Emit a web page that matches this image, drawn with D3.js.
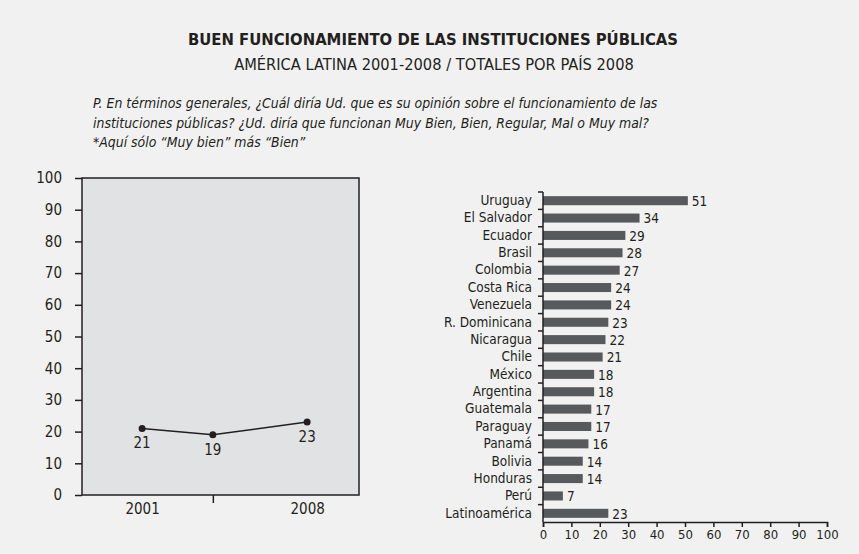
<!DOCTYPE html>
<html>
<head>
<meta charset="utf-8">
<script src="https://cdn.jsdelivr.net/npm/d3@7"></script>
<style>
  body { margin: 0; background: #f1f1f1; }
  svg { display: block; }
  text { fill: #231f20; font-family: "Liberation Sans Narrow", "DejaVu Sans Condensed", sans-serif; }
</style>
</head>
<body>
<svg width="859" height="554"></svg>
<script>
// Evolution 2001-2008
var years = [2001, 2004, 2008];
var yearValues = [21, 19, 23];
var yearTickLabels = ["2001", "", "2008"];

// Totals by country 2008
var countries = ["Uruguay", "El Salvador", "Ecuador", "Brasil", "Colombia", "Costa Rica", "Venezuela",
  "R. Dominicana", "Nicaragua", "Chile", "México", "Argentina", "Guatemala", "Paraguay", "Panamá",
  "Bolivia", "Honduras", "Perú", "Latinoamérica"];
var countryValues = [51, 34, 29, 28, 27, 24, 24, 23, 22, 21, 18, 18, 17, 17, 16, 14, 14, 7, 23];

var titleText = "BUEN FUNCIONAMIENTO DE LAS INSTITUCIONES PÚBLICAS";
var subtitleText = "AMÉRICA LATINA 2001-2008 / TOTALES POR PAÍS 2008";
var questionLines = [
  "P. En términos generales, ¿Cuál diría Ud. que es su opinión sobre el funcionamiento de las",
  "instituciones públicas? ¿Ud. diría que funcionan Muy Bien, Bien, Regular, Mal o Muy mal?",
  "*Aquí sólo “Muy bien” más “Bien”"
];

var svg = d3.select("svg");

// ---- titles ----
svg.append("text")
    .attr("x", 433).attr("y", 45)
    .attr("text-anchor", "middle")
    .style("font-size", "16.5px").style("font-weight", "bold")
    .text(titleText);

svg.append("text")
    .attr("x", 434).attr("y", 70)
    .attr("text-anchor", "middle")
    .style("font-size", "16.3px")
    .text(subtitleText);

svg.append("g").selectAll("text")
    .data(questionLines)
  .enter().append("text")
    .attr("x", 93)
    .attr("y", function(d, i) { return 108 + i * 19.5; })
    .style("font-size", "13.9px").style("font-style", "italic")
    .text(function(d) { return d; });

// ======================= left chart: line =======================
var left = {x0: 82, x1: 359, y0: 178, y1: 495};

var xl = d3.scaleLinear().domain([1998.45, 2010.2]).range([left.x0, left.x1]);
var yl = d3.scaleLinear().domain([0, 100]).range([left.y1, left.y0]);

var gl = svg.append("g");

gl.append("rect")
    .attr("x", left.x0).attr("y", left.y0)
    .attr("width", left.x1 - left.x0).attr("height", left.y1 - left.y0)
    .attr("fill", "#e1e2e4")
    .attr("stroke", "#231f20").attr("stroke-width", 1.5);

var yAxisL = gl.append("g")
    .attr("transform", "translate(" + left.x0 + ",0)")
    .call(d3.axisLeft(yl).tickValues(d3.range(0, 101, 10)).tickSize(7).tickPadding(13));
yAxisL.select(".domain").remove();
yAxisL.selectAll("line").attr("stroke", "#231f20").attr("stroke-width", 1.5);
yAxisL.selectAll("text").style("font-size", "15px").attr("font-family", null).attr("fill", "#231f20");

var xAxisL = gl.append("g")
    .attr("transform", "translate(0," + left.y1 + ")")
    .call(d3.axisBottom(xl).tickValues(years).tickSize(0).tickPadding(8)
        .tickFormat(function(d, i) { return yearTickLabels[i]; }));
xAxisL.select(".domain").remove();
xAxisL.selectAll("text").style("font-size", "15px").attr("font-family", null).attr("fill", "#231f20");
// middle tick mark only
xAxisL.selectAll(".tick").filter(function(d, i) { return yearTickLabels[i] === ""; })
    .select("line").attr("y2", 8).attr("stroke", "#231f20").attr("stroke-width", 1.5);

var line = d3.line()
    .x(function(d, i) { return xl(years[i]); })
    .y(function(d) { return yl(d); });

gl.append("path")
    .datum(yearValues)
    .attr("fill", "none")
    .attr("stroke", "#231f20")
    .attr("stroke-width", 1.5)
    .attr("d", line);

gl.selectAll(".dot")
    .data(yearValues)
  .enter().append("circle")
    .attr("class", "dot")
    .attr("r", 3.5)
    .attr("fill", "#231f20")
    .attr("cx", function(d, i) { return xl(years[i]); })
    .attr("cy", function(d) { return yl(d); });

gl.selectAll(".val")
    .data(yearValues)
  .enter().append("text")
    .attr("class", "val")
    .attr("text-anchor", "middle")
    .attr("x", function(d, i) { return xl(years[i]); })
    .attr("y", function(d) { return yl(d) + 20; })
    .style("font-size", "15px")
    .text(function(d) { return d; });

// ======================= right chart: bars =======================
var right = {x0: 543, x1: 827, y0: 192, y1: 522};

var xr = d3.scaleLinear().domain([0, 100]).range([right.x0, right.x1]);
var yr = d3.scaleBand().domain(countries).range([right.y0, right.y1])
    .paddingInner(0.48).paddingOuter(0.24);

var gr = svg.append("g");

gr.selectAll(".bar")
    .data(countryValues)
  .enter().append("rect")
    .attr("class", "bar")
    .attr("x", xr(0))
    .attr("y", function(d, i) { return yr(countries[i]); })
    .attr("width", function(d) { return xr(d) - xr(0); })
    .attr("height", yr.bandwidth())
    .attr("fill", "#58595b");

gr.selectAll(".bval")
    .data(countryValues)
  .enter().append("text")
    .attr("class", "bval")
    .attr("x", function(d) { return xr(d) + 4; })
    .attr("y", function(d, i) { return yr(countries[i]) + yr.bandwidth() / 2; })
    .attr("dy", "0.4em")
    .style("font-size", "13.5px")
    .text(function(d) { return d; });

// y axis: labels centred on bars, ticks at band boundaries
var yAxisR = gr.append("g")
    .attr("transform", "translate(" + right.x0 + ",0)")
    .call(d3.axisLeft(yr).tickSize(0).tickPadding(11));
yAxisR.select(".domain").remove();
yAxisR.selectAll("text").style("font-size", "13.5px").attr("font-family", null).attr("fill", "#231f20");

gr.selectAll(".btick")
    .data(countries)
  .enter().append("line")
    .attr("class", "btick")
    .attr("x1", right.x0 - 5).attr("x2", right.x0)
    .attr("y1", function(d) { return yr(d) - yr.step() * yr.paddingInner() / 2; })
    .attr("y2", function(d) { return yr(d) - yr.step() * yr.paddingInner() / 2; })
    .attr("stroke", "#231f20").attr("stroke-width", 1.5);

gr.append("line")
    .attr("x1", right.x0).attr("x2", right.x0)
    .attr("y1", right.y0).attr("y2", right.y1)
    .attr("stroke", "#231f20").attr("stroke-width", 1.5);

var xAxisR = gr.append("g")
    .attr("transform", "translate(0," + right.y1 + ")")
    .call(d3.axisBottom(xr).tickValues(d3.range(0, 101, 10)).tickSize(5).tickPadding(3));
xAxisR.select(".domain").attr("stroke", "#231f20").attr("stroke-width", 1.5);
xAxisR.selectAll("line").attr("stroke", "#231f20").attr("stroke-width", 1.5);
xAxisR.selectAll("text").style("font-size", "13px").attr("font-family", null).attr("fill", "#231f20");
</script>
</body>
</html>
